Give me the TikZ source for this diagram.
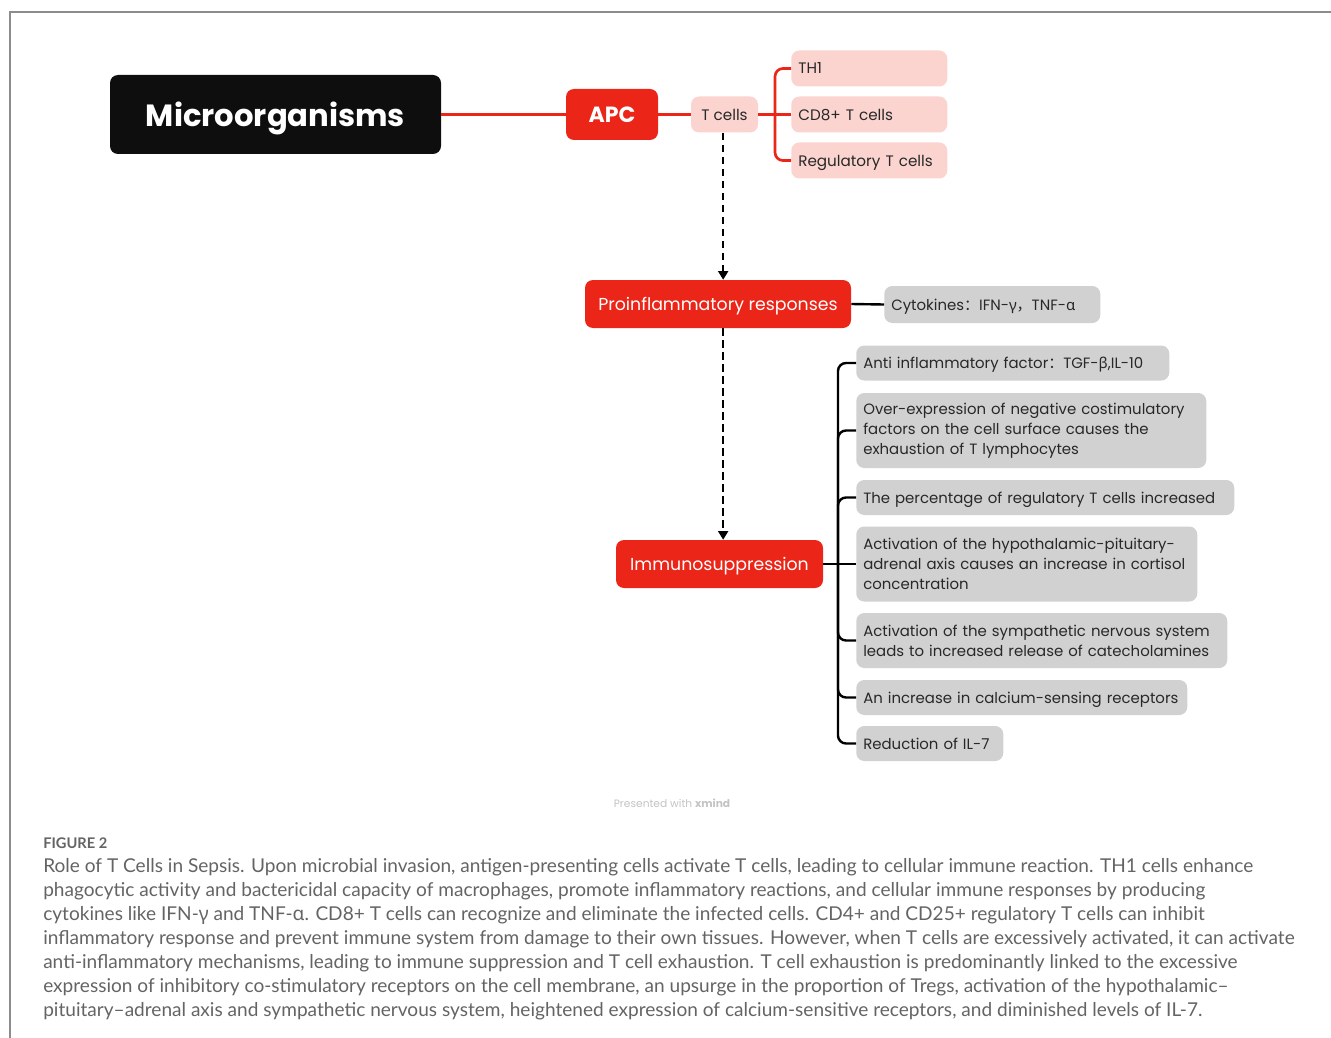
\documentclass[tikz,border=0pt]{standalone}
\usepackage{fontspec}
\usepackage{tikz}
\usetikzlibrary{arrows.meta}
\setmainfont{Poppins}
\newfontfamily\capfont{Lato}
\newfontfamily\grkfont{Noto Sans}
\newfontfamily\cjkfont{Noto Sans CJK SC}
\newcommand{\gk}[1]{{\grkfont #1}}
\newcommand{\fw}[1]{{\cjkfont #1}}

\definecolor{rootfill}{RGB}{14,14,14}
\definecolor{mapred}{RGB}{235,37,23}
\definecolor{pinkfill}{RGB}{251,212,208}
\definecolor{grayfill}{RGB}{209,209,209}
\definecolor{darktext}{RGB}{40,40,40}
\definecolor{framegray}{RGB}{140,140,140}
\definecolor{capgray}{RGB}{100,100,100}
\definecolor{creditgray}{RGB}{195,195,195}

\begin{document}
\begin{tikzpicture}[x=0.75pt,y=0.75pt,yscale=-1,xscale=1,
  rootbox/.style={fill=rootfill,rounded corners=6pt,text=white,font=\fontsize{23}{28}\selectfont\bfseries,minimum width=248.25pt,minimum height=59.25pt,inner sep=0pt,text depth=0pt},
  redbox/.style={fill=mapred,rounded corners=6pt,text=white,inner sep=0pt,minimum height=36pt,text depth=0pt},
  pinkbox/.style={fill=pinkfill,rounded corners=6pt,text=darktext,font=\fontsize{11.4}{15}\selectfont,inner xsep=5.25pt,inner ysep=0pt,minimum height=27pt,text depth=0pt},
  graybox/.style={fill=grayfill,rounded corners=6pt,text=darktext,font=\fontsize{11.2}{15}\selectfont,inner xsep=5.25pt,inner ysep=0pt,anchor=west,align=left},
  oneline/.style={text depth=0pt},
  redline/.style={draw=mapred,line width=2pt},
  brline/.style={draw=black,line width=1.8pt,rounded corners=6pt},
  flowarrow/.style={draw=black,line width=1.5pt,dash pattern=on 5.5pt off 3.5pt,-{Triangle[width=7.5pt,length=6.5pt]}}
]
\useasboundingbox (0,0) rectangle (1331,1038);

%Straight Lines: frame
\draw [framegray,line width=1.1pt] (1331,12) -- (10,12) -- (10,1038) ;

%Shape: Rectangle [root]
\node [rootbox] (micro) at (275.5,114.5) {Microorganisms};
%Shape: Rectangle [APC]
\node [redbox,minimum width=69pt,minimum height=38.25pt,font=\fontsize{16.5}{20}\selectfont\bfseries] (apc) at (612,114.5) {APC};
%Shape: Rectangle [T cells]
\node [pinkbox,minimum width=50.25pt,inner xsep=0pt] (tc) at (724.5,114.5) {T cells};

%Shape: Rectangle [T cell types]
\node [pinkbox,anchor=west,text width=106.5pt,align=left] (th1) at (791,68.5) {TH1};
\node [pinkbox,anchor=west,text width=106.5pt,align=left] (cd8) at (791,114.5) {CD8+ T cells};
\node [pinkbox,anchor=west,text width=106.5pt,align=left] (treg) at (791,160.5) {Regulatory T cells};

%Shape: Rectangle [responses]
\node [redbox,minimum width=199.5pt,font=\fontsize{13}{15}\selectfont] (pro) at (718,304) {Proinflammatory responses};
\node [graybox,oneline,text width=151.5pt,minimum height=27.75pt] (cyt) at (884,304.5) {Cytokines\fw{：}IFN-\gk{γ}\fw{，}TNF-\gk{α}};
\node [redbox,minimum width=155.25pt,font=\fontsize{13}{15}\selectfont] (imm) at (719.5,564) {Immunosuppression};

%Shape: Rectangle [suppression causes]
\node [graybox,oneline,text width=224.25pt,minimum height=26.25pt] (is1) at (856,363) {Anti inflammatory factor\fw{：}TGF-\gk{β},IL-10};
\node [graybox,text width=252pt,minimum height=56.25pt] (is2) at (856,430.5) {Over-expression of negative costimulatory\\factors on the cell surface causes the\\exhaustion of T lymphocytes};
\node [graybox,oneline,text width=273pt,minimum height=26.25pt] (is3) at (856,497.5) {The percentage of regulatory T cells increased};
\node [graybox,text width=245.25pt,minimum height=56.25pt] (is4) at (856,564) {Activation of the hypothalamic-pituitary-\\adrenal axis causes an increase in cortisol\\concentration};
\node [graybox,text width=267.75pt,minimum height=41.25pt] (is5) at (856,640.5) {Activation of the sympathetic nervous system\\leads to increased release of catecholamines};
\node [graybox,oneline,text width=237.75pt,minimum height=26.25pt] (is6) at (856,697.5) {An increase in calcium-sensing receptors};
\node [graybox,oneline,text width=99.75pt,minimum height=26.25pt] (is7) at (856,743.5) {Reduction of IL-7};

%Straight Lines: red chain
\draw [redline] (micro.east) -- (apc.west) ;
\draw [redline] (apc.east) -- (tc.west) ;
\coordinate (tcfork) at (775,114.5) ;
\draw [redline] (tc.east) -- (tcfork) ;
\draw [redline,rounded corners=6pt] (tcfork) |- (th1.west) ;
\draw [redline] (tcfork) -- (cd8.west) ;
\draw [redline,rounded corners=6pt] (tcfork) |- (treg.west) ;

%Curve Lines: dashed flow
\draw [flowarrow] ([xshift=-1pt]tc.south) -- ([xshift=-1pt]tc.south |- pro.north) ;
\draw [flowarrow] ([xshift=-1pt]pro.south -| tc.south) -- ([xshift=-1pt]tc.south |- imm.north) ;

%Straight Lines: black branches
\draw [brline] (pro.east) -- (cyt.west) ;
\coordinate (isfork) at (838,564) ;
\draw [brline] (imm.east) -- (is4.west) ;
\draw [brline] (isfork) |- (is1.west) ;
\draw [brline] (isfork) |- (is2.west) ;
\draw [brline] (isfork) |- (is3.west) ;
\draw [brline] (isfork) |- (is5.west) ;
\draw [brline] (isfork) |- (is6.west) ;
\draw [brline] (isfork) |- (is7.west) ;

% Text Node
\node [text=creditgray,font=\fontsize{8}{10}\selectfont] (credit) at (672,803.5) {Presented with \textbf{xmind}};
% Text Node
\node [anchor=base west,inner sep=0pt,text=capgray,font=\capfont\fontsize{11}{12}\selectfont\bfseries] (fig) at (43,848) {FIGURE 2};
% Text Node
\node [anchor=north west,inner sep=0pt,text=capgray,align=left,font=\capfont\fontsize{14.3}{18}\selectfont] (caption) at (43,858) {Role of T Cells in Sepsis. Upon microbial invasion, antigen-presenting cells activate T cells, leading to cellular immune reaction. TH1 cells enhance\\
phagocytic activity and bactericidal capacity of macrophages, promote inflammatory reactions, and cellular immune responses by producing\\
cytokines like IFN-\gk{γ} and TNF-\gk{α}. CD8+ T cells can recognize and eliminate the infected cells. CD4+ and CD25+ regulatory T cells can inhibit\\
inflammatory response and prevent immune system from damage to their own tissues. However, when T cells are excessively activated, it can activate\\
anti-inflammatory mechanisms, leading to immune suppression and T cell exhaustion. T cell exhaustion is predominantly linked to the excessive\\
expression of inhibitory co-stimulatory receptors on the cell membrane, an upsurge in the proportion of Tregs, activation of the hypothalamic–\\
pituitary–adrenal axis and sympathetic nervous system, heightened expression of calcium-sensitive receptors, and diminished levels of IL-7.};
\end{tikzpicture}
\end{document}
